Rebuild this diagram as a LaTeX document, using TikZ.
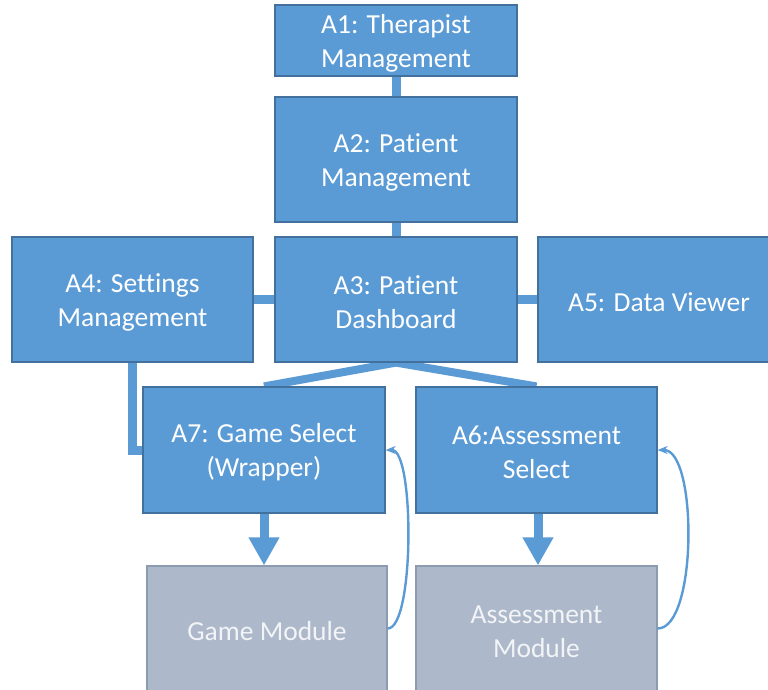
\documentclass[tikz,border=0pt]{standalone}
\usepackage{fontspec}
\setmainfont{Carlito}[Ligatures=NoCommon]
\usetikzlibrary{arrows.meta,backgrounds}
\definecolor{boxblue}{HTML}{5B9BD5}
\definecolor{boxedge}{HTML}{41719C}
\definecolor{boxgray}{HTML}{ADB9CA}
\definecolor{grayedge}{HTML}{8C9BB0}
\definecolor{graytext}{HTML}{F2F4F7}
\newcommand{\tstrut}{\rule{0pt}{24pt}}
\tikzset{
  boxbase/.style={rectangle, line width=1.2pt, inner sep=0pt, align=center, font=\fontsize{27.5}{34}\selectfont},
  bluebox/.style={boxbase, draw=boxedge, fill=boxblue, text=white},
  graybox/.style={boxbase, draw=grayedge, fill=boxgray, text=graytext},
  conn/.style={draw=boxblue, line width=9pt},
  fatarrow/.style={draw=boxblue, line width=9pt, -{Triangle[length=28pt,width=29pt]}},
  loopback/.style={draw=boxblue, line width=2.4pt, -{Stealth[length=10pt,width=8pt,inset=3pt]}}
}
\begin{document}
\begin{tikzpicture}[x=1pt,y=-1pt]
\useasboundingbox (0,0) rectangle (768,689);
\clip (0,0) rectangle (768,689);
% nodes
\node[bluebox, minimum width=242pt, minimum height=71pt] (A1) at (396,40.5) {\tstrut A1: Therapist\\Management};
\node[bluebox, minimum width=242pt, minimum height=125pt] (A2) at (396,159.5) {\tstrut A2: Patient\\Management};
\node[bluebox, minimum width=242pt, minimum height=125pt] (A3) at (396,299.5) {\tstrut A3: Patient\\Dashboard};
\node[bluebox, minimum width=241pt, minimum height=125pt] (A4) at (132.5,299.5) {\tstrut A4: Settings\\Management};
\node[bluebox, minimum width=242pt, minimum height=125pt] (A5) at (659,299.5) {\tstrut A5: Data Viewer};
\node[bluebox, minimum width=242pt, minimum height=126pt] (A7) at (264,450) {\tstrut A7: Game Select\\(Wrapper)};
\node[bluebox, minimum width=241pt, minimum height=126pt] (A6) at (536.5,450) {\tstrut A6:Assessment\\Select};
\node[graybox, minimum width=240pt, minimum height=125pt] (GM) at (267,628.5) {\tstrut Game Module};
\node[graybox, minimum width=241pt, minimum height=125pt] (AM) at (536.5,628.5) {\tstrut Assessment\\Module};
% connectors behind boxes
\begin{scope}[on background layer]
\draw[conn] (A1.south) -- (A2.north);
\draw[conn] (A2.south) -- (A3.north);
\draw[conn] (A4.east) -- (A3.west);
\draw[conn] (A3.east) -- (A5.west);
\draw[conn, line width=8pt] (A7.north) -- (A3.south) -- (A6.north);
\draw[conn] (A4.south) |- (A7.west);
\end{scope}
\draw[fatarrow] (A7.south) -- (A7.south |- GM.north);
\draw[fatarrow] ([xshift=1.5pt]A6.south) -- ([xshift=1.5pt]A6.south |- AM.north);
\draw[loopback] (GM.east) .. controls ([xshift=27pt]GM.east) and ([xshift=29pt]A7.east) .. (A7.east);
\draw[loopback] (AM.east) .. controls ([xshift=40pt]AM.east) and ([xshift=40pt]A6.east) .. (A6.east);
\end{tikzpicture}
\end{document}
